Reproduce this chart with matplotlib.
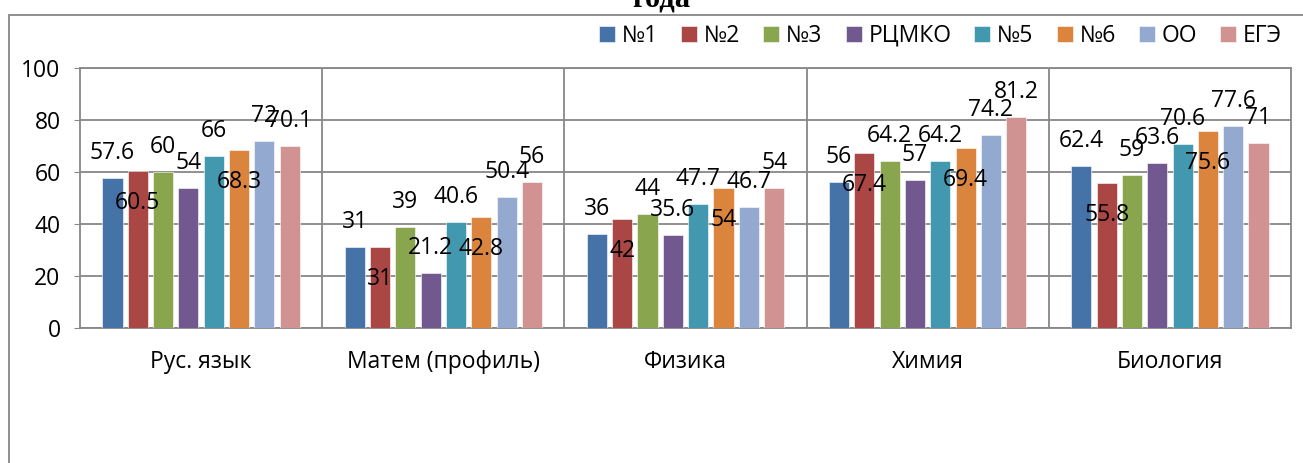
import numpy as np
import matplotlib
matplotlib.use('Agg')
import matplotlib.pyplot as plt
from matplotlib.patches import Rectangle

plt.rcParams['font.family'] = ['Open Sans', 'DejaVu Sans']

subjects = ['Рус. язык', 'Матем (профиль)', 'Физика', 'Химия', 'Биология']
series_names = ['№1', '№2', '№3', 'РЦМКО', '№5', '№6', 'ОО', 'ЕГЭ']

s_no1 = [57.6, 31, 36, 56, 62.4]
s_no2 = [60.5, 31, 42, 67.4, 55.8]
s_no3 = [60, 39, 44, 64.2, 59]
s_rcmko = [54, 21.2, 35.6, 57, 63.6]
s_no5 = [66, 40.6, 47.7, 64.2, 70.6]
s_no6 = [68.3, 42.8, 54, 69.4, 75.6]
s_oo = [72, 50.4, 46.7, 74.2, 77.6]
s_ege = [70.1, 56, 54, 81.2, 71]
all_series = [s_no1, s_no2, s_no3, s_rcmko, s_no5, s_no6, s_oo, s_ege]

colors = ['#4572A7', '#AA4643', '#89A54E', '#71588F',
          '#4198AF', '#DB843D', '#93A9CF', '#D19392']
grid_col = '#878787'

W, H = 1303, 463
fig = plt.figure(figsize=(W / 100, H / 100), dpi=100)
ax = fig.add_axes([80 / W, 1 - 328 / H, 1211 / W, 260 / H])

x = np.arange(len(subjects))
slot = 0.1045
width = 0.083
for i, (name, vals, c) in enumerate(zip(series_names, all_series, colors)):
    pos = x + (i - 3.5) * slot
    bars = ax.bar(pos, vals, width, color=c, label=name, zorder=3,
                  edgecolor='white', linewidth=0.4)
    # labels of №2 and №6 sit inside the bar top, the rest above
    inside = name in ('№2', '№6')
    for b, v in zip(bars, vals):
        ax.annotate(f'{v:g}', (b.get_x() + b.get_width() / 2, v),
                    xytext=(0, -23 if inside else 18), textcoords='offset points',
                    ha='center', va='center', fontsize=16.5, zorder=5)

ax.set_xlim(-0.5, 4.5)
ax.set_ylim(0, 100)
ax.set_yticks(range(0, 101, 20))
ax.yaxis.grid(True, color=grid_col, lw=1.3, zorder=0)
for bnd in np.arange(0.5, 4.5):
    ax.axvline(bnd, color=grid_col, lw=1.3, zorder=0)
for sp in ax.spines.values():
    sp.set_color(grid_col)
    sp.set_linewidth(1.3)

ax.set_xticks(x, subjects)
ax.tick_params(axis='x', length=0, pad=16, labelsize=16.5)
ax.tick_params(axis='y', length=4, color=grid_col, pad=10, labelsize=16.5)

fig.legend(ncol=8, loc='center right', bbox_to_anchor=(1282 / W, 1 - 36 / H),
           frameon=False, fontsize=16.5, handlelength=0.7, handleheight=0.7,
           handletextpad=0.3, columnspacing=1.0, borderpad=0, borderaxespad=0)

fig.text(661 / W, 1 - 7 / H, 'года', ha='center', va='baseline', fontsize=22,
         fontweight='bold', family=['Liberation Serif', 'DejaVu Serif'])

fig.add_artist(Rectangle((9 / W, -0.2), 1.0, 1.2 - 15 / H, transform=fig.transFigure,
                         fill=False, edgecolor=grid_col, lw=1.3))

fig.savefig('out.png', dpi=100)
